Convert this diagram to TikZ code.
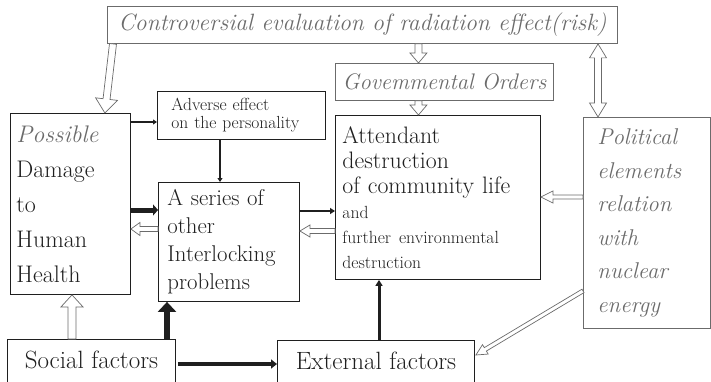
\documentclass[tikz,border=0pt]{standalone}
\usetikzlibrary{calc,arrows.meta}
\tikzset{>=Triangle}
\colorlet{ink}{black!88}
\colorlet{soft}{black!58}
\tikzset{
  box/.style={draw=ink, line width=0.9pt, text=ink, inner sep=0pt, anchor=north west, align=left},
  graybox/.style={box, draw=soft, text=soft},
  hollow/.style={draw=soft, line width=0.7pt, fill=white, line join=miter},
  half shaft/.store in=\hshaft, half head/.store in=\hhead, head length/.store in=\hlen,
  half shaft=2pt, half head=6pt, head length=9pt,
  link/.style={draw=ink, line width=#1},
}
\newcommand{\fs}[2]{\fontsize{#1}{#2}\selectfont}
\newcommand{\hollowarrow}[3][]{%
  \draw[hollow,#1]
    ($(#2)!\hshaft!90:(#3)$)
    -- ($(#3)!\hlen!(#2)!\hshaft!-90:(#2)$)
    -- ($(#3)!\hlen!(#2)!\hhead!-90:(#2)$)
    -- (#3)
    -- ($(#3)!\hlen!(#2)!\hhead!90:(#2)$)
    -- ($(#3)!\hlen!(#2)!\hshaft!90:(#2)$)
    -- ($(#2)!\hshaft!-90:(#3)$) -- cycle;}
\newcommand{\hollowboth}[3][]{%
  \draw[hollow,#1]
    (#2)
    -- ($(#2)!\hlen!(#3)!\hhead!90:(#3)$)
    -- ($(#2)!\hlen!(#3)!\hshaft!90:(#3)$)
    -- ($(#3)!\hlen!(#2)!\hshaft!-90:(#2)$)
    -- ($(#3)!\hlen!(#2)!\hhead!-90:(#2)$)
    -- (#3)
    -- ($(#3)!\hlen!(#2)!\hhead!90:(#2)$)
    -- ($(#3)!\hlen!(#2)!\hshaft!90:(#2)$)
    -- ($(#2)!\hlen!(#3)!\hshaft!-90:(#3)$)
    -- ($(#2)!\hlen!(#3)!\hhead!-90:(#3)$)
    -- cycle;}

\begin{document}
\begin{tikzpicture}[x=1pt,y=-1pt]
  \useasboundingbox (0,0) rectangle (711,382);
  \clip (0,0) rectangle (711,382);
  % boxes
  \node[graybox, minimum width=510pt, minimum height=37pt, align=center,
        font=\fs{23.6}{25}\itshape] (risk) at (107,6)
    {Controversial evaluation of radiation effect(risk)};
  \node[graybox, minimum width=218pt, minimum height=37pt, align=center,
        font=\fs{22.5}{25}\itshape] (orders) at (335,63) {Govemmental Orders};
  \node[box, minimum width=120pt, minimum height=181pt, text width=108pt,
        font=\fs{24}{35}] (damage) at (10,113)
    {\textcolor{soft}{\itshape Possible}\\Damage\\to\\Human\\Health};
  \node[box, minimum width=168pt, minimum height=48pt, text width=140pt,
        font=\fs{17.5}{18}] (adverse) at (157,91)
    {Adverse effect\\on the personality};
  \node[box, minimum width=141pt, minimum height=119pt, text width=123pt,
        font=\fs{22.8}{28}] (series) at (158,182)
    {A series of\\other\\Interlocking\\problems};
  \node[box, minimum width=205pt, minimum height=164pt, text width=191pt,
        font=\fs{23.8}{25}] (attendant) at (335,115)
    {Attendant\\destruction\\of community life\\
     \fs{17.6}{25}and\\further environmental\\destruction};
  \node[graybox, minimum width=127pt, minimum height=211pt, text width=99pt,
        font=\fs{22.8}{33.5}\itshape] (political) at (583,117)
    {Political\\elements\\relation\\with\\nuclear\\energy};
  \node[box, minimum width=168pt, text height=29pt, text depth=25pt, align=center,
        font=\fs{25}{25}] (social) at (7,339) {Social factors};
  \node[box, minimum width=197pt, text height=29pt, text depth=25pt, align=center,
        font=\fs{25}{25}] (external) at (277,340) {External factors};
  % ends of the connectors
  \coordinate (r0) at ($(risk.south west)+(6,0)$);
  \coordinate (r1) at ($(damage.north east)+(-26,0)$);
  \coordinate (g1) at ($(orders.north)+(-26,0)$);
  \coordinate (g0) at (g1 |- risk.south);
  \coordinate (a1) at ($(attendant.north)+(-19.5,0)$);
  \coordinate (a0) at (a1 |- orders.south);
  \coordinate (p1) at ($(political.north west)+(15,0)$);
  \coordinate (p0) at (p1 |- risk.south);
  \coordinate (q0) at ($(political.north west)+(0,80)$);
  \coordinate (e0) at ($(political.south west)+(0,-38)$);
  \coordinate (e1) at ($(external.north east)+(1,15)$);
  \coordinate (s0) at ($(series.north west)+(0,47)$);
  \coordinate (t0) at ($(attendant.north west)+(0,116)$);
  \coordinate (h0) at ($(social.north west)+(65,0)$);
  \coordinate (d0) at ($(damage.north east)+(0,9)$);
  \coordinate (v0) at ($(adverse.south west)+(63,0)$);
  \coordinate (w0) at ($(damage.north east)+(0,97)$);
  \coordinate (x0) at ($(series.north east)+(0,29)$);
  \coordinate (y0) at ($(social.north west)+(160,0)$);
  \coordinate (z0) at ($(social.north east)+(2,25)$);
  \coordinate (u0) at ($(external.north west)+(102,0)$);
  \coordinate (q1) at (q0 -| attendant.east);
  \coordinate (s1) at (s0 -| damage.east);
  \coordinate (t1) at (t0 -| series.east);
  \coordinate (h1) at (h0 |- damage.south);
  % hollow arrows
  \hollowarrow[half shaft=3.5pt, half head=11pt, head length=14pt]{r0}{r1}
  \hollowarrow[half shaft=3.5pt, half head=8.5pt, head length=10pt]{g0}{g1}
  \hollowarrow[half shaft=3.5pt, half head=8.5pt, head length=10pt]{a0}{a1}
  \hollowboth[half shaft=3.5pt, half head=8.5pt, head length=14pt]{p0}{p1}
  \hollowarrow[half shaft=2pt, half head=6pt, head length=12pt]{q0}{q1}
  \hollowarrow[half shaft=2pt, half head=5.5pt, head length=11pt]{e0}{e1}
  \hollowarrow[half shaft=2.5pt, half head=6.5pt, head length=9pt]{s0}{s1}
  \hollowarrow[half shaft=2.5pt, half head=6pt, head length=10pt]{t0}{t1}
  \hollowarrow[half shaft=4pt, half head=11pt, head length=12pt]{h0}{h1}
  % black arrows
  \draw[link=1.4pt, -{Triangle[length=4pt,width=5pt]}] (d0) -- (d0 -| adverse.west);
  \draw[link=2pt, -{Triangle[length=4pt,width=5pt]}] (v0) -- (v0 |- series.north);
  \draw[link=5pt, -{Triangle[length=5pt,width=11pt]}] (w0) -- (w0 -| series.west);
  \draw[link=2pt, -{Triangle[length=5pt,width=6pt]}] (x0) -- (x0 -| attendant.west);
  \draw[link=6.5pt, -{Triangle[length=10pt,width=18pt]}] (y0) -- (y0 |- series.south);
  \draw[link=4pt, -{Triangle[length=6pt,width=9pt]}] (z0) -- (z0 -| external.west);
  \draw[link=3pt, -{Triangle[length=6pt,width=7pt]}] (u0) -- (u0 |- attendant.south);
\end{tikzpicture}
\end{document}
